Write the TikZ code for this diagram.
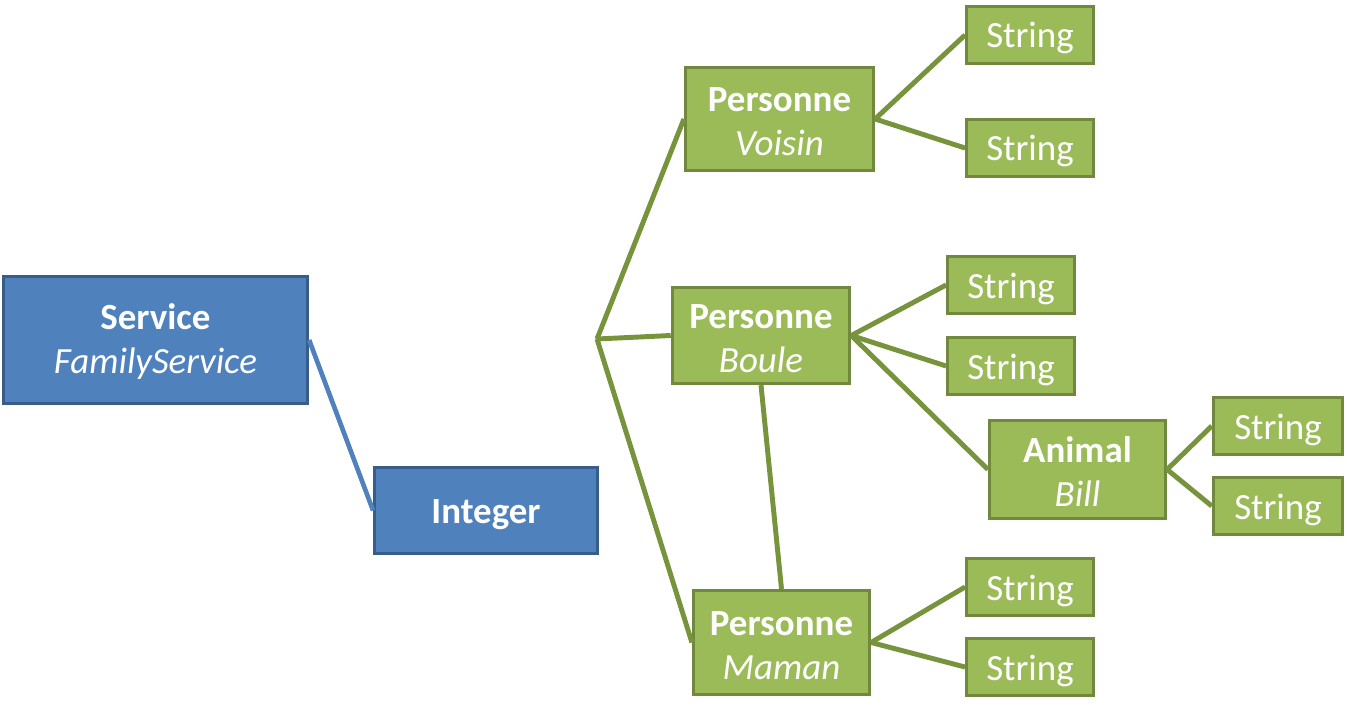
\documentclass[tikz,border=0pt]{standalone}
\usepackage{fontspec}
\setmainfont{Carlito}
\usepackage{xcolor}
\definecolor{blueFill}{HTML}{4F81BD}
\definecolor{blueEdge}{HTML}{385D8A}
\definecolor{greenFill}{HTML}{9BBB59}
\definecolor{greenEdge}{HTML}{71893F}
\definecolor{greenLine}{HTML}{77933C}
\newcommand{\twoline}[2]{\rule{0pt}{22pt}\textbf{#1}\\\textit{#2}}
\tikzset{
	block/.style={draw,rectangle,line width=2.4pt,text=white,align=center,inner sep=0pt,
		font=\fontsize{27.7}{33}\selectfont},
	oneline/.style={text height=19.5pt,text depth=0pt},
	blueblock/.style={block,draw=blueEdge,fill=blueFill},
	greenblock/.style={block,draw=greenEdge,fill=greenFill},
	strbox/.style={greenblock,oneline,minimum width=95pt,minimum height=43pt},
	blueline/.style={draw=blueFill,line width=3.5pt},
	greenline/.style={draw=greenLine,line width=3.7pt},
}

\begin{document}
\begin{tikzpicture}[x=0.75pt,y=-0.75pt]
	\useasboundingbox (0,0) rectangle (1347,713);
	\node[blueblock,minimum width=228pt,minimum height=95pt] (service) at (155.5,340) {\twoline{Service}{FamilyService}};
	\node[blueblock,oneline,minimum width=167pt,minimum height=64.5pt] (integer) at (486,510.5) {\textbf{Integer}};
	\coordinate (fork) at (597,339);
	\node[greenblock,minimum width=141pt,minimum height=77pt] (voisin) at (779.5,119) {\twoline{Personne}{Voisin}};
	\node[greenblock,minimum width=133pt,minimum height=72pt] (boule) at (761,335.5) {\twoline{Personne}{Boule}};
	\node[greenblock,minimum width=132pt,minimum height=73.5pt] (animal) at (1077.5,469.5) {\twoline{Animal}{Bill}};
	\node[greenblock,minimum width=132pt,minimum height=78pt] (maman) at (781.5,642.5) {\twoline{Personne}{Maman}};
	\node[strbox] (str1) at (1030,35) {String};
	\node[strbox] (str2) at (1030,148) {String};
	\node[strbox] (str3) at (1011,285) {String};
	\node[strbox] (str4) at (1011,366) {String};
	\node[strbox,minimum width=97pt] (str5) at (1278,426) {String};
	\node[strbox,minimum width=97pt] (str6) at (1278,506) {String};
	\node[strbox] (str7) at (1030,587) {String};
	\node[strbox] (str8) at (1030,667) {String};
	\path
	(service.east) edge[blueline] (integer.west)
	(fork) edge[greenline] (voisin.west)
	(fork) edge[greenline] (boule.west)
	(fork) edge[greenline] (maman.west)
	(voisin.east) edge[greenline] (str1.west)
	(voisin.east) edge[greenline] (str2.west)
	(boule.east) edge[greenline] (str3.west)
	(boule.east) edge[greenline] (str4.west)
	(boule.east) edge[greenline] (animal.west)
	(animal.east) edge[greenline] (str5.west)
	(animal.east) edge[greenline] (str6.west)
	(maman.east) edge[greenline] (str7.west)
	(maman.east) edge[greenline] (str8.west)
	(boule.south) edge[greenline] (maman.north)
	;
\end{tikzpicture}
\end{document}
